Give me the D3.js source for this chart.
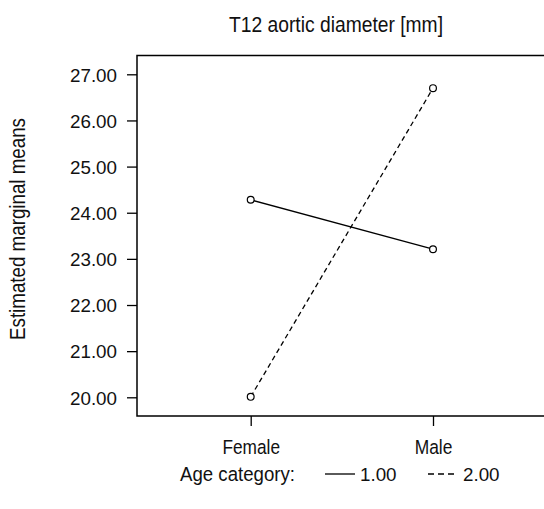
<!DOCTYPE html>
<html lang="en">
<head>
<meta charset="utf-8">
<title>T12 aortic diameter</title>
<script src="https://cdnjs.cloudflare.com/ajax/libs/d3/7.8.5/d3.min.js"></script>
<style>
body { margin: 0; background: #fff; }
.txt, .num { font-family: "Liberation Sans", Arial, sans-serif; fill: #111; }
</style>
</head>
<body>
<script>
// data
var categories = ["Female", "Male"];
var ageGroups = ["1.00", "2.00"];
var age1 = [24.28, 23.21];
var age2 = [20.01, 26.70];
var yTicks = [20, 21, 22, 23, 24, 25, 26, 27];

var w = 544, h = 509;
var plotLeft = 137, plotTop = 55.5, plotBottom = 416;

var svg = d3.select("body").append("svg")
  .attr("width", w)
  .attr("height", h);

var x = d3.scalePoint().domain(categories).range([250.7, 433]);
var y = d3.scaleLinear().domain([20, 27]).range([397.3, 74.3]);

// frame (right side is cut off in the original)
svg.append("path")
  .attr("d", "M" + w + "," + plotTop + "H" + plotLeft + "V" + plotBottom + "H" + w)
  .attr("fill", "none")
  .attr("stroke", "#000")
  .attr("stroke-width", 1.5);

// y axis
var yAxis = svg.append("g")
  .attr("transform", "translate(" + plotLeft + ",0)")
  .call(d3.axisLeft(y).tickValues(yTicks).tickSize(10).tickPadding(10)
    .tickFormat(d3.format(".2f")));
yAxis.select(".domain").remove();
yAxis.selectAll("line").attr("stroke", "#000").attr("stroke-width", 1.3);
yAxis.selectAll("text").attr("class", "num").attr("font-size", 18.8)
  .attr("fill", "#111").attr("dy", "0.36em");

// x axis
var xWidths = { Female: 57.6, Male: 37.7 };
var xAxis = svg.append("g")
  .attr("transform", "translate(0," + plotBottom + ")")
  .call(d3.axisBottom(x).tickSize(10).tickPadding(28));
xAxis.select(".domain").remove();
xAxis.selectAll("line").attr("stroke", "#000").attr("stroke-width", 1.3);
xAxis.selectAll("text").attr("class", "txt").attr("font-size", 20.5)
  .attr("fill", "#111").attr("dy", "0")
  .attr("textLength", function(d) { return xWidths[d]; })
  .attr("lengthAdjust", "spacingAndGlyphs");

// lines
var series = [
  { name: ageGroups[0], values: age1, dash: null },
  { name: ageGroups[1], values: age2, dash: "5,3.5" }
];
var line = d3.line()
  .x(function(d, i) { return x(categories[i]); })
  .y(function(d) { return y(d); });

series.forEach(function(s) {
  svg.append("path")
    .attr("d", line(s.values))
    .attr("fill", "none")
    .attr("stroke", "#000")
    .attr("stroke-width", 1.3)
    .attr("stroke-dasharray", s.dash);
  svg.selectAll(null)
    .data(s.values)
    .enter()
    .append("circle")
    .attr("cx", function(d, i) { return x(categories[i]); })
    .attr("cy", function(d) { return y(d); })
    .attr("r", 3.4)
    .attr("fill", "#fff")
    .attr("stroke", "#000")
    .attr("stroke-width", 1.2);
});

// title
svg.append("text")
  .attr("class", "txt")
  .attr("x", 336).attr("y", 32)
  .attr("text-anchor", "middle")
  .attr("font-size", 21.5)
  .attr("textLength", 214)
  .attr("lengthAdjust", "spacingAndGlyphs")
  .text("T12 aortic diameter [mm]");

// y label
svg.append("text")
  .attr("class", "txt")
  .attr("transform", "translate(25,229) rotate(-90)")
  .attr("text-anchor", "middle")
  .attr("font-size", 21.5)
  .attr("textLength", 222)
  .attr("lengthAdjust", "spacingAndGlyphs")
  .text("Estimated marginal means");

// legend
var ly = 481;
svg.append("text").attr("class", "txt")
  .attr("x", 180).attr("y", ly).attr("font-size", 20.5)
  .attr("textLength", 115)
  .attr("lengthAdjust", "spacingAndGlyphs")
  .text("Age category:");
var legX = [325, 428];
series.forEach(function(s, i) {
  svg.append("line")
    .attr("x1", legX[i]).attr("x2", legX[i] + 30)
    .attr("y1", ly - 7).attr("y2", ly - 7)
    .attr("stroke", "#000").attr("stroke-width", 1.3)
    .attr("stroke-dasharray", s.dash ? "6,4" : null);
  svg.append("text").attr("class", "num")
    .attr("x", legX[i] + 35).attr("y", ly).attr("font-size", 18.8)
    .text(s.name);
});
</script>
</body>
</html>
